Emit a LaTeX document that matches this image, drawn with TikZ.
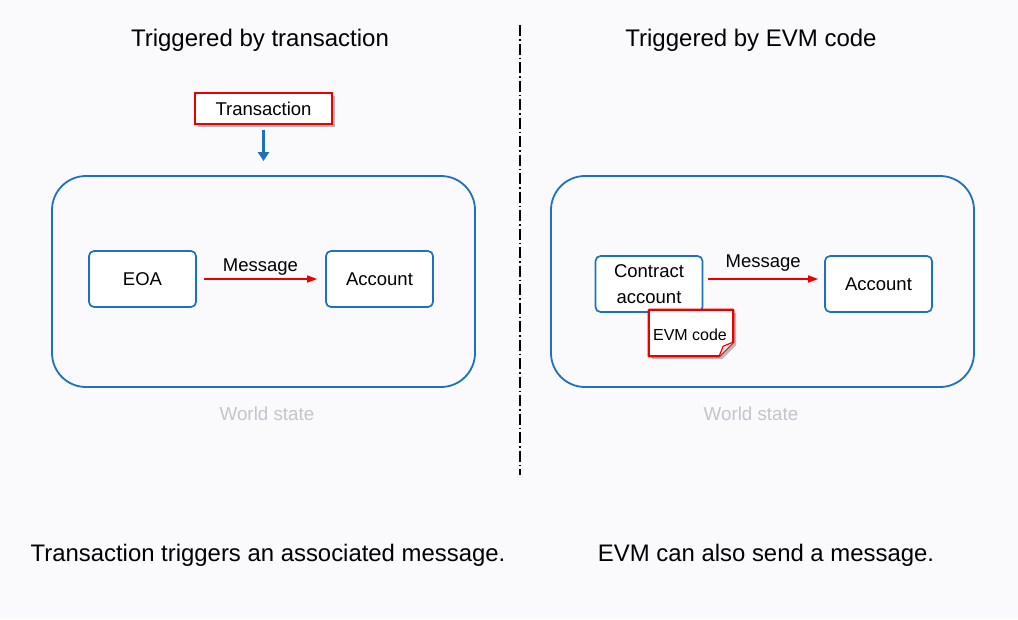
\documentclass[tikz,border=0pt]{standalone}
\usepackage{fontspec}
\setmainfont{Liberation Sans}
\usetikzlibrary{shadows,arrows.meta,calc}
\definecolor{bg}{RGB}{250,250,253}
\definecolor{mblue}{RGB}{28,114,190}
\definecolor{mred}{RGB}{235,0,0}
\definecolor{wgray}{RGB}{196,196,202}
\tikzset{
  world/.style={draw=mblue,line width=1.8pt,rounded corners=34pt,minimum width=423pt,minimum height=211pt,inner sep=0pt},
  acct/.style={draw=mblue,line width=1.7pt,rounded corners=5pt,fill=white,minimum width=107pt,minimum height=56pt,inner sep=0pt,font=\fontsize{18.5}{21}\selectfont,align=center},
  msgarrow/.style={draw=mred,line width=1.5pt,-{Triangle[length=10pt,width=7pt]}},
  title/.style={font=\fontsize{24}{28}\selectfont},
  caption/.style={font=\fontsize{23.9}{28}\selectfont},
  lbl/.style={font=\fontsize{18.5}{21}\selectfont},
  wlabel/.style={font=\fontsize{18.8}{21}\selectfont,text=wgray},
}
\begin{document}
\begin{tikzpicture}[x=1pt,y=-1pt]
\fill[bg] (0,0) rectangle (1018,619);
\useasboundingbox (0,0) rectangle (1018,619);

% titles
\node[title] (t1) at (260,40) {Triggered by transaction};
\node[title] (t2) at (751,40) {Triggered by EVM code};

% divider
\coordinate (d1) at (520,25);
\coordinate (d2) at (520,475);
\draw[line width=1.1pt,dash pattern=on 11pt off 3pt on 1.5pt off 3pt] (d1) -- (d2);

% left
\node[draw=mred,line width=2.2pt,fill=white,minimum width=137pt,minimum height=31pt,inner sep=0pt,
  drop shadow={shadow xshift=3pt,shadow yshift=-3pt,fill=black!45,opacity=0.6},
  font=\fontsize{18.5}{21}\selectfont] (tx) at (263.5,108.5) {Transaction};
\coordinate (ws1top) at (263.5,161);
\draw[draw=mblue,line width=3pt,-{Triangle[length=9pt,width=11pt]}] ($(tx.south)+(0,5)$) -- (ws1top);

\node[world] (w1) at (263.5,281.5) {};
\node[wlabel] (wl1) at (267,414) {World state};
\node[acct] (eoa) at (142.5,279) {EOA};
\node[acct] (acc1) at (379.5,279) {Account};
\draw[msgarrow] ($(eoa.east)+(7,0)$) -- node[lbl,above=0pt] {Message} ($(acc1.west)+(-8,0)$);

% right
\node[world] (w2) at (762.5,281.5) {};
\node[wlabel] (wl2) at (751,414) {World state};
\node[acct,font=\fontsize{18.5}{26.5}\selectfont] (ca) at (649,284) {Contract\\account};
\node[acct] (acc2) at (878.5,284) {Account};
\draw[msgarrow] ($(ca.east)+(5,-5)$) -- node[lbl,above=4pt] {Message} ($(acc2.west)+(-6,-5)$);

% EVM code note
\node[minimum width=84pt,minimum height=46pt,inner sep=0pt] (evm) at (691,333) {};
\fill[black!45,opacity=0.6] ($(evm.north west)+(3,3)$) -- ($(evm.north east)+(3,3)$) -- ($(evm.south east)+(3,-11)$) -- ($(evm.south east)+(-11,3)$) -- ($(evm.south west)+(3,3)$) -- cycle;
\draw[mred,line width=2.2pt,fill=white,line join=round] (evm.north west) -- (evm.north east) -- ($(evm.south east)+(0,-14)$) -- ($(evm.south east)+(-14,0)$) -- (evm.south west) -- cycle;
\draw[mred,line width=1.2pt,fill=black!8,line join=round] ($(evm.south east)+(0,-14)$) -- ($(evm.south east)+(-10,-10)$) -- ($(evm.south east)+(-14,0)$);
\node[font=\fontsize{16}{19}\selectfont] (evmt) at (690,335) {EVM code};

% captions
\node[caption] (c1) at (268,555) {Transaction triggers an associated message.};
\node[caption] (c2) at (766,555) {EVM can also send a message.};
\end{tikzpicture}
\end{document}
